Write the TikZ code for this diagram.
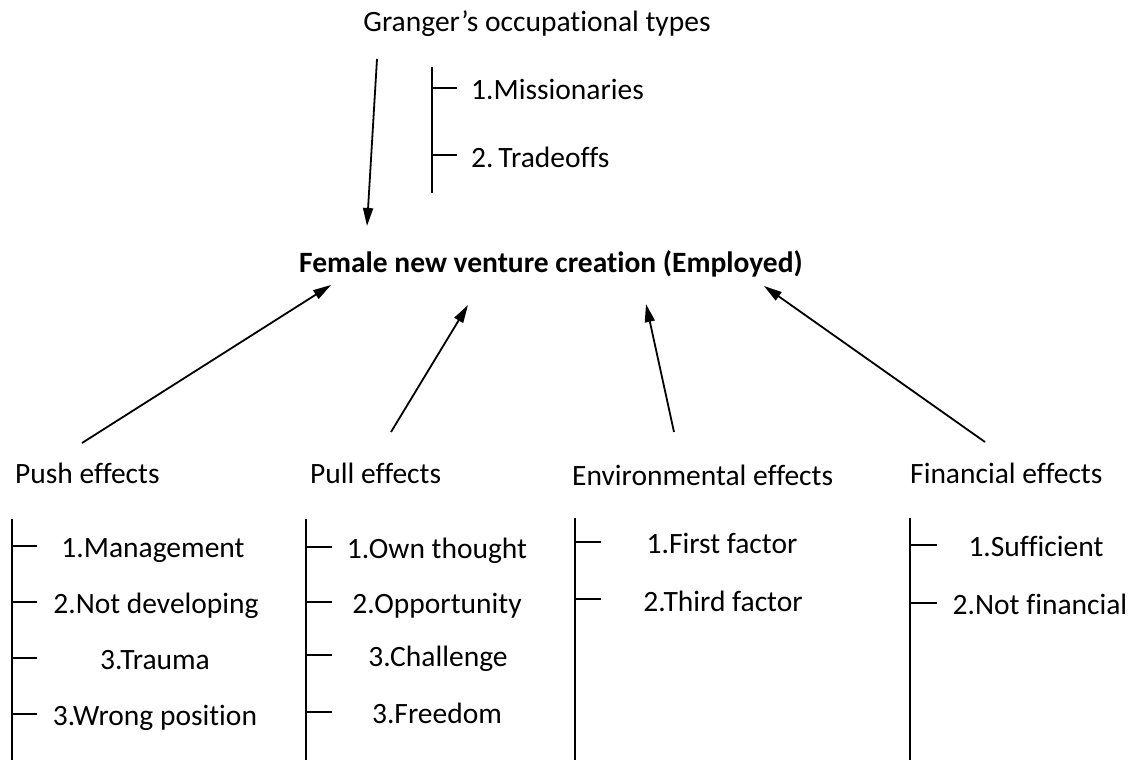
\documentclass[tikz,border=0pt]{standalone}
\usepackage{fontspec}
\setmainfont{Carlito}[Ligatures={NoCommon,NoContextual}]
\usetikzlibrary{arrows.meta}
\begin{document}
\begin{tikzpicture}[x=1pt,y=-1pt,
  lbl/.style={inner sep=0pt,anchor=base,font=\fontsize{29.5}{34}\selectfont},
  lblw/.style={lbl,anchor=base west},
  ttl/.style={inner sep=0pt,anchor=base,font=\fontsize{29.5}{34}\selectfont\bfseries},
  arr/.style={line width=1.8pt,-{Triangle[length=18pt,width=10pt]}},
  brk/.style={line width=1.3pt}]
\useasboundingbox[fill=white] (0,0) rectangle (1142,760);

% top
\node[lbl] (granger) at (537,32) {Granger’s occupational types};
\node[ttl] (female) at (551,272) {Female new venture creation (Employed)};

\coordinate (gtop) at (432,67);
\coordinate (gbot) at (432,193);
\draw[brk] (gtop) -- (gbot);
\coordinate (g1) at (432,88);
\coordinate (g2) at (432,155);
\draw[brk] (g1) -- ++(25,0);
\draw[brk] (g2) -- ++(25,0);
\node[lblw] (miss) at (471,99) {1.Missionaries};
\node[lblw] (trade) at (471,167) {2.\,Tradeoffs};

\coordinate (ga) at (377,59);
\coordinate (gb) at (367,226);
\draw[arr] (ga) -- (gb);

% headers
\node[lblw] (push) at (15,483) {Push effects};
\node[lblw] (pull) at (310,483) {Pull effects};
\node[lblw] (env) at (572,485) {Environmental effects};
\node[lblw] (fin) at (910,483) {Financial effects};

% arrows up
\coordinate (pa) at (82,443);
\coordinate (pb) at (331,285);
\draw[arr] (pa) -- (pb);
\coordinate (la) at (391,432);
\coordinate (lb) at (468,305);
\draw[arr] (la) -- (lb);
\coordinate (ea) at (674,432);
\coordinate (eb) at (646,304);
\draw[arr] (ea) -- (eb);
\coordinate (fa) at (985,442);
\coordinate (fb) at (764,286);
\draw[arr] (fa) -- (fb);

% push bracket
\draw[brk] (12,519) -- (12,760);
\foreach \y in {546,602,658,714} \draw[brk] (12,\y) -- (37,\y);
\node[lbl] (p1) at (153,557) {1.Management};
\node[lbl] (p2) at (156,613) {2.Not developing};
\node[lbl] (p3) at (155,669) {3.Trauma};
\node[lbl] (p4) at (155,725) {3.Wrong position};

% pull bracket
\draw[brk] (306,519) -- (306,760);
\foreach \y in {547,602,655,712} \draw[brk] (306,\y) -- (332,\y);
\node[lbl] (l1) at (437,558) {1.Own thought};
\node[lbl] (l2) at (437,613) {2.Opportunity};
\node[lbl] (l3) at (438,666) {3.Challenge};
\node[lbl] (l4) at (437,723) {3.Freedom};

% env bracket
\draw[brk] (575,518) -- (575,760);
\foreach \y in {542,599} \draw[brk] (575,\y) -- (601,\y);
\node[lbl] (e1) at (722,553) {1.First factor};
\node[lbl] (e2) at (723,611) {2.Third factor};

% fin bracket
\draw[brk] (910,518) -- (910,760);
\foreach \y in {545,603} \draw[brk] (910,\y) -- (937,\y);
\node[lbl] (f1) at (1036,556) {1.Sufficient};
\node[lbl] (f2) at (1040,614) {2.Not financial};
\end{tikzpicture}
\end{document}
